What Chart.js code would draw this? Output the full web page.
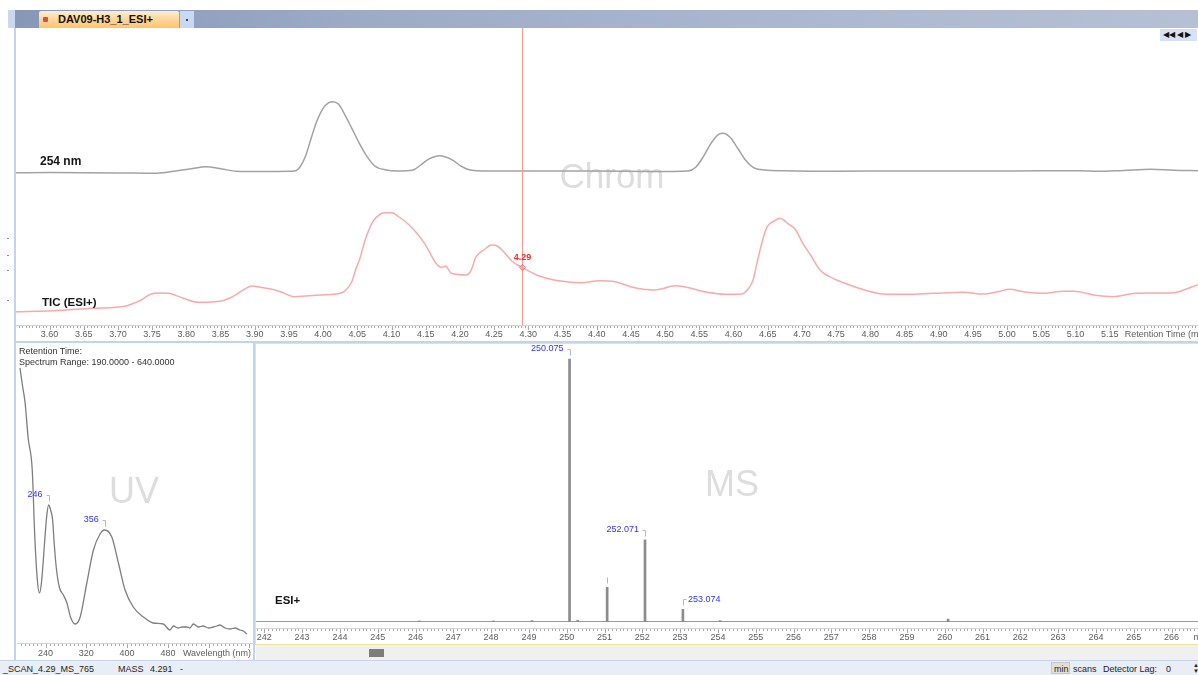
<!DOCTYPE html>
<html>
<head>
<meta charset="utf-8">
<title>DAV09-H3_1_ESI+</title>
<script src="https://cdn.jsdelivr.net/npm/chart.js@4.4.1/dist/chart.umd.min.js"></script>
<style>
  html, body { margin: 0; padding: 0; background: #fff; }
  body { position: relative; width: 1198px; height: 675px; overflow: hidden;
         font-family: "Liberation Sans", Arial, Helvetica, sans-serif; }
  .box { position: absolute; }
  canvas { position: absolute; display: block; }
  .txt { position: absolute; white-space: nowrap; line-height: 1; }
</style>
</head>
<body>

<!-- window title strip and document tab -->
<div class="box" style="left:8px;top:10px;width:7px;height:18px;background:#c9d8ee"></div>
<div class="box" style="left:15px;top:10px;width:1183px;height:18px;background:linear-gradient(to right,#8797b7 0%,#9dabc7 30%,#adb9d0 70%,#b5c0d5 100%)"></div>
<div class="box" style="left:39px;top:11px;width:140px;height:17px;background:linear-gradient(#ffedcf,#ffd493 55%,#ffc46f);border-radius:2px 2px 0 0"></div>
<div class="box" style="left:43px;top:17px;width:5px;height:5px;background:#d4504a;border-radius:1px"></div>
<div class="txt" style="left:58px;top:14px;font-size:11px;font-weight:bold;color:#111">DAV09-H3_1_ESI+</div>
<div class="box" style="left:180px;top:11px;width:14px;height:17px;background:#c8daf3"></div>
<div class="box" style="left:186px;top:19px;width:2px;height:2px;background:#445"></div>

<!-- canvases -->
<canvas id="chrom" width="1182" height="313" style="left:16px;top:28px;width:1182px;height:313px"></canvas>
<canvas id="uv" width="236" height="317" style="left:17px;top:343px;width:236px;height:317px"></canvas>
<canvas id="ms" width="942" height="300" style="left:256px;top:344px;width:942px;height:300px"></canvas>

<!-- pane borders -->
<div class="box" style="left:14px;top:28px;width:2px;height:632px;background:#c2d4ec"></div>
<div class="box" style="left:15px;top:341px;width:1183px;height:2px;background:#c2d4ec"></div>
<div class="box" style="left:253px;top:343px;width:2px;height:317px;background:#c2d4ec"></div>
<div class="box" style="left:255px;top:343px;width:943px;height:1px;background:#f1e39c"></div>
<div class="box" style="left:255px;top:343px;width:1px;height:302px;background:#f1e39c"></div>
<div class="box" style="left:255px;top:644px;width:943px;height:1px;background:#f1e39c"></div>
<div class="box" style="left:256px;top:645px;width:942px;height:15px;background:#f0f0f0"></div>
<div class="box" style="left:369px;top:649px;width:15px;height:8px;background:#7d7d7d"></div>

<!-- navigation buttons -->
<div class="box" style="left:1160px;top:29px;width:37px;height:12px;background:#d6e2f3"></div>
<div class="txt" style="left:1163px;top:31px;font-size:8px;color:#111">&#9664;&#9664; &#9664; &#9654;</div>

<!-- small marks in the left margin -->
<div class="box" style="left:7px;top:238px;width:2px;height:1px;background:#888"></div>
<div class="box" style="left:7px;top:255px;width:2px;height:1px;background:#888"></div>
<div class="box" style="left:7px;top:270px;width:2px;height:1px;background:#888"></div>
<div class="box" style="left:7px;top:300px;width:2px;height:1px;background:#888"></div>

<!-- spectrum header -->
<div class="txt" style="left:19px;top:347px;font-size:9px;color:#333">Retention Time:</div>
<div class="txt" style="left:19px;top:358px;font-size:9px;color:#333">Spectrum Range: 190.0000 - 640.0000</div>

<!-- status bar -->
<div class="box" style="left:0;top:660px;width:1198px;height:15px;background:#e9eef6;border-top:1px solid #c5d5ea"></div>
<div class="txt" style="left:3px;top:665px;font-size:9px;color:#222">_SCAN_4.29_MS_765</div>
<div class="txt" style="left:118px;top:665px;font-size:9px;color:#222">MASS</div>
<div class="txt" style="left:150px;top:665px;font-size:9px;color:#222">4.291</div>
<div class="txt" style="left:180px;top:665px;font-size:9px;color:#222">-</div>
<div class="box" style="left:1051px;top:662px;width:19px;height:12px;background:#e2dfd4;border:1px solid #cbc7b9;box-sizing:border-box"></div>
<div class="txt" style="left:1054px;top:665px;font-size:9px;color:#222">min</div>
<div class="txt" style="left:1073px;top:665px;font-size:9px;color:#222">scans</div>
<div class="txt" style="left:1103px;top:665px;font-size:9px;color:#222">Detector Lag:</div>
<div class="txt" style="left:1166px;top:665px;font-size:9px;color:#222">0</div>
<div class="txt" style="left:1193px;top:662px;font-size:6px;color:#222;line-height:6px">&#9650;<br>&#9660;</div>

<script>
// ---------------- chromatogram: retention time (min) ----------------
const rtMin = 3.55102, rtMax = 5.27909;
const rtTickLabels = ['3.60','3.65','3.70','3.75','3.80','3.85','3.90','3.95','4.00','4.05',
  '4.10','4.15','4.20','4.25','4.30','4.35','4.40','4.45','4.50','4.55','4.60','4.65','4.70',
  '4.75','4.80','4.85','4.90','4.95','5.00','5.05','5.10','5.15'];

// 254 nm absorbance trace (relative)
const uv254Time = [3.551,3.600,3.650,3.700,3.757,3.7845,3.8069,3.8292,3.8517,3.8741,3.900,3.930,
  3.958,3.9664,3.9749,3.9832,3.9915,4.000,4.0083,4.0139,4.0224,4.0307,4.042,4.053,4.0643,4.0755,
  4.0922,4.109,4.1314,4.1427,4.1538,4.1706,4.1874,4.2013,4.2153,4.240,4.300,4.400,4.480,4.5335,
  4.5447,4.5559,4.5671,4.5782,4.5849,4.595,4.6062,4.6174,4.6286,4.6455,4.6734,4.750,4.8525,
  4.950,5.050,5.1042,5.132,5.170,5.2105,5.244,5.2791];
const uv254Abs = [0.3,0.4,0.3,0.1,-0.3,2,4.3,6.3,4,1.7,1.4,1.6,
  2,6.3,18,36.3,53,64.7,70.3,71.3,69,59.7,44.7,29.7,16.3,7,
  3,2,3,8,13.7,17.3,13.7,7,3,2,2,2,1.5,2,
  5.7,16.3,29.7,38.7,39.7,35.7,24.7,13,5.7,3,2.3,1.8,2,
  2,2.2,2.3,1.7,2.6,3.7,2.7,2.3];

// total ion current, ESI+ (relative)
const ticTime = [3.551,3.6055,3.6615,3.7118,3.723,3.7342,3.7454,3.7566,3.7734,3.7957,3.8181,3.8517,
  3.8629,3.8741,3.8853,3.8964,3.9076,3.930,3.9412,3.958,3.9748,3.9972,4.025,4.0335,4.0419,4.0475,
  4.0531,4.0615,4.0727,4.0839,4.0923,4.1007,4.1091,4.1259,4.1371,4.1482,4.1566,4.165,4.1734,4.179,
  4.1874,4.2098,4.2154,4.2238,4.235,4.2462,4.2546,4.2658,4.277,4.291,4.3162,4.3442,4.3776,4.4028,
  4.4272,4.4496,4.4832,4.4943,4.5139,4.5279,4.5615,4.5895,4.6118,4.6202,4.6286,4.6353,4.6426,
  4.6493,4.6594,4.6678,4.6734,4.679,4.6902,4.7014,4.7126,4.7265,4.7405,4.7629,4.7965,4.8189,
  4.8524,4.8916,4.9364,4.9643,4.9867,5.0035,5.0259,5.0538,5.0818,5.0986,5.1266,5.1546,5.1881,
  5.2441,5.2609,5.2791];
const ticIntensity = [13.3,14.3,16.7,19,21.7,25,30,32,31.7,26.7,22.7,24,
  26.7,31,36,39,37.7,35,32.3,28.3,29,30,31.7,35,43.3,55,
  65,85,103.3,111,112.3,112.3,109,100,91.7,81.7,71.7,61.7,57.7,59,
  51.7,50,53.3,68.3,75,80,79,71.7,63.3,57.7,49,44.3,42.3,44.3,
  43.3,38.3,35,36,39.3,38.3,32.7,30.7,31,35,45,65,85,
  98.3,104,106.7,105,101.7,95.7,81.7,70,55,48.3,41.7,34,31,
  30.7,31.7,32.7,31,33.3,35.7,33,31.7,33.7,33.7,30,28.3,31.7,
  32.3,35.7,40.3];

const cursorTime = 4.291;
const cursorLabel = '4.29';

// ---------------- UV spectrum at the cursor ----------------
const nmMin = 184.1, nmMax = 646.9;
const uvTickLabels = ['240','320','400','480'];
const uvWavelength = [190,195,200,206,214,219,224,228,232,239,242,246,250,254,257,261,267,275,282,
  289,298,308,321,334,347,356,370,383,396,412,432,451,471,484,491,500,508,517,523,530,540,549,
  560,569,576,582,592,602,612,621,628,635];
const uvAbs = [275,257,240,205,173,106,63,50,60,106,125,138,133,123,100,76,56,48,40,
  26,19,26,60,93,109,113,106,80,53,36,26,20,19,13,17,15,16,16,15,19,16,17,
  15,16,17,18,15,14,15,13,12,9];
const uvPeakLabels = [246, 356];

// ---------------- mass spectrum at the cursor ----------------
const mzMin = 241.780, mzMax = 266.701;
const msTickLabels = ['242','243','244','245','246','247','248','249','250','251','252','253',
  '254','255','256','257','258','259','260','261','262','263','264','265','266'];
const msMz = [246.10, 248.06, 249.08, 250.075, 250.29, 251.07, 252.071, 253.074, 254.06, 260.09];
const msIntensity = [0.4, 0.4, 0.5, 100, 0.6, 13.2, 31.2, 4.8, 0.5, 1.1];
const msLabelMz = [250.075, 251.07, 252.071, 253.074];
const msLabelText = ['250.075', '', '252.071', '253.074'];

// ---------------- shared helpers ----------------
const FONT = '"Liberation Sans", Arial, Helvetica, sans-serif';
Chart.defaults.font.family = FONT;

function pairs(xs, ys) { return xs.map((x, i) => ({ x, y: ys[i] })); }

// bottom axis: labels only; the gap below the plot is given as an (undrawn) tick length
function xAxis(min, max, labels, height, gap) {
  const values = labels.map(Number);
  return {
    type: 'linear', min, max, bounds: 'data', offset: false,
    grid: { display: false, drawTicks: true, tickLength: gap },
    border: { display: false },
    afterFit: s => { s.height = height; },
    afterBuildTicks: s => { s.ticks = values.map(v => ({ value: v })); },
    ticks: {
      autoSkip: false, maxRotation: 0, minRotation: 0, padding: 0,
      color: '#5c5c5c', font: { size: 9 },
      callback: v => {
        const i = values.findIndex(t => Math.abs(t - v) < 1e-9);
        return i >= 0 ? labels[i] : '';
      }
    }
  };
}

// ruler under a plot: fine ticks with a longer mark at each labelled step
function drawRuler(chart, gap, minor, major) {
  const { ctx, chartArea } = chart;
  const sx = chart.scales.x;
  const y0 = Math.round(chartArea.bottom + gap);
  ctx.save();
  ctx.fillStyle = '#d4d4d4';
  ctx.fillRect(sx.left, y0, sx.right - sx.left, 1);
  ctx.fillStyle = '#a9a9a9';
  const first = Math.ceil(sx.min / minor - 1e-9), last = Math.floor(sx.max / minor + 1e-9);
  for (let n = first; n <= last; n++) {
    const v = n * minor;
    const px = Math.round(sx.getPixelForValue(v));
    const r = v / major;
    const isMajor = Math.abs(r - Math.round(r)) < 1e-6;
    ctx.fillRect(px, y0 + 1, 1, isMajor ? 4 : 2);
  }
  ctx.restore();
}

function watermark(chart, text, x, y, size) {
  const { ctx, chartArea } = chart;
  ctx.save();
  ctx.font = size + 'px ' + FONT;
  ctx.fillStyle = '#dddddd';
  ctx.textAlign = 'center';
  ctx.textBaseline = 'middle';
  ctx.fillText(text, chartArea.left + x, chartArea.top + y);
  ctx.restore();
}

// peak annotation: label text beside a small bracket above the apex
function peakTag(ctx, px, top, text, side) {
  const ly = top - 10;
  ctx.save();
  ctx.strokeStyle = '#a9b6ef';
  ctx.lineWidth = 1;
  const bx = Math.round(px) + 0.5;
  ctx.beginPath();
  if (text) {
    ctx.moveTo(side === 'left' ? bx - 3 : bx + 3, Math.round(ly) + 0.5);
    ctx.lineTo(bx, Math.round(ly) + 0.5);
  } else {
    ctx.moveTo(bx, Math.round(ly) + 0.5);
  }
  ctx.lineTo(bx, Math.round(top - 4) + 0.5);
  ctx.stroke();
  if (text) {
    ctx.font = '9px ' + FONT;
    ctx.fillStyle = '#3434f0';
    ctx.textBaseline = 'middle';
    ctx.textAlign = side === 'left' ? 'right' : 'left';
    ctx.fillText(text, side === 'left' ? px - 6 : px + 5, ly);
  }
  ctx.restore();
}

function textAt(ctx, text, x, y, font, color, align) {
  ctx.save();
  ctx.font = font;
  ctx.fillStyle = color;
  ctx.textAlign = align || 'left';
  ctx.textBaseline = 'middle';
  ctx.fillText(text, x, y);
  ctx.restore();
}

const baseOptions = {
  responsive: false, animation: false, devicePixelRatio: 1,
  layout: { padding: 0, autoPadding: false },
  plugins: { legend: { display: false }, tooltip: { enabled: false } },
  events: []
};

// ---------------- chromatogram chart ----------------
new Chart(document.getElementById('chrom'), {
  type: 'line',
  data: {
    datasets: [
      { label: '254 nm', data: pairs(uv254Time, uv254Abs), yAxisID: 'yUv',
        borderColor: '#a2a2a2', borderWidth: 1.5, pointRadius: 0, cubicInterpolationMode: 'monotone' },
      { label: 'TIC (ESI+)', data: pairs(ticTime, ticIntensity), yAxisID: 'yTic',
        borderColor: '#f8aaaa', borderWidth: 1.5, pointRadius: 0, cubicInterpolationMode: 'monotone' }
    ]
  },
  options: Object.assign({}, baseOptions, {
    scales: {
      x: xAxis(rtMin, rtMax, rtTickLabels, 16, 4),
      yUv: { display: false, min: -152, max: 145 },
      yTic: { display: false, min: 0, max: 297 }
    }
  }),
  plugins: [{
    id: 'chromDecor',
    beforeDatasetsDraw(chart) { watermark(chart, 'Chrom', 596, 150, 35); },
    afterDatasetsDraw(chart) {
      const { ctx, chartArea: a, scales } = chart;
      drawRuler(chart, 0, 0.005, 0.05);
      // cursor
      const cx = Math.round(scales.x.getPixelForValue(cursorTime)) + 0.5;
      ctx.save();
      ctx.strokeStyle = '#f39c9c';
      ctx.lineWidth = 1.2;
      ctx.beginPath(); ctx.moveTo(cx, a.top); ctx.lineTo(cx, a.bottom); ctx.stroke();
      const i = ticTime.indexOf(cursorTime);
      const py = scales.yTic.getPixelForValue(ticIntensity[i]);
      ctx.strokeStyle = '#f06a6a';
      ctx.lineWidth = 1;
      ctx.beginPath();
      ctx.moveTo(cx, py - 3); ctx.lineTo(cx + 3, py); ctx.lineTo(cx, py + 3); ctx.lineTo(cx - 3, py);
      ctx.closePath(); ctx.stroke();
      ctx.restore();
      textAt(ctx, cursorLabel, cx, py - 10, 'bold 9px ' + FONT, '#ff2626', 'center');
      // trace names
      textAt(ctx, '254 nm', a.left + 24, a.top + 134, 'bold 12px ' + FONT, '#151515');
      textAt(ctx, 'TIC (ESI+)', a.left + 26, a.top + 275, 'bold 11.5px ' + FONT, '#151515');
      // axis title after the last label
      const tx = scales.x.getPixelForValue(Number(rtTickLabels[rtTickLabels.length - 1])) + 15;
      textAt(ctx, 'Retention Time (min)', tx, a.bottom + 9.5, '9px ' + FONT, '#5c5c5c');
    }
  }]
});

// ---------------- UV spectrum chart ----------------
new Chart(document.getElementById('uv'), {
  type: 'line',
  data: {
    datasets: [
      { label: 'UV', data: pairs(uvWavelength, uvAbs), borderColor: '#7e7e7e', borderWidth: 1.3,
        pointRadius: 0, cubicInterpolationMode: 'monotone' }
    ]
  },
  options: Object.assign({}, baseOptions, {
    scales: {
      x: xAxis(nmMin, nmMax, uvTickLabels, 17, 5),
      y: { display: false, min: 0, max: 300 }
    }
  }),
  plugins: [{
    id: 'uvDecor',
    beforeDatasetsDraw(chart) { watermark(chart, 'UV', 117, 150, 36); },
    afterDatasetsDraw(chart) {
      const { ctx, chartArea: a, scales } = chart;
      drawRuler(chart, 0, 8, 80);
      const meta = chart.getDatasetMeta(0);
      uvPeakLabels.forEach(nm => {
        const el = meta.data[uvWavelength.indexOf(nm)];
        peakTag(ctx, el.x, el.y, String(nm), 'left');
      });
      const tx = scales.x.getPixelForValue(Number(uvTickLabels[uvTickLabels.length - 1])) + 15;
      textAt(ctx, 'Wavelength (nm)', tx, a.bottom + 10.5, '9px ' + FONT, '#5c5c5c');
    }
  }]
});

// ---------------- mass spectrum chart ----------------
new Chart(document.getElementById('ms'), {
  type: 'bar',
  data: {
    datasets: [
      { label: 'ESI+', data: pairs(msMz, msIntensity), backgroundColor: '#8b8b8b',
        borderWidth: 0, barThickness: 2 }
    ]
  },
  options: Object.assign({}, baseOptions, {
    scales: {
      x: xAxis(mzMin, mzMax, msTickLabels, 22, 10),
      y: { display: false, min: 0, max: 105.7 }
    }
  }),
  plugins: [{
    id: 'msDecor',
    beforeDatasetsDraw(chart) {
      const { ctx, chartArea: a, scales } = chart;
      watermark(chart, 'MS', 476, 142, 36);
      const y0 = Math.round(scales.y.getPixelForValue(0)) - 0.5;
      ctx.save();
      ctx.strokeStyle = '#9a9a9a';
      ctx.lineWidth = 1;
      ctx.beginPath(); ctx.moveTo(a.left, y0); ctx.lineTo(a.right, y0); ctx.stroke();
      ctx.restore();
    },
    afterDatasetsDraw(chart) {
      const { ctx, chartArea: a, scales } = chart;
      drawRuler(chart, 6, 0.1, 1);
      const meta = chart.getDatasetMeta(0);
      ctx.save();
      ctx.font = '9px ' + FONT;
      msLabelMz.forEach((mz, k) => {
        const el = meta.data[msMz.indexOf(mz)];
        const text = msLabelText[k];
        const w = ctx.measureText(text).width;
        const ly = el.y - 10;
        // put the label on the right when a taller neighbour would cross it
        const blocked = meta.data.some(o => o !== el && o.x < el.x && o.x > el.x - 8 - w && o.y < ly + 6);
        peakTag(ctx, el.x, el.y, text, blocked ? 'right' : 'left');
      });
      ctx.restore();
      textAt(ctx, 'ESI+', a.left + 19, a.top + 257, 'bold 11.5px ' + FONT, '#151515');
      const tx = scales.x.getPixelForValue(Number(msTickLabels[msTickLabels.length - 1])) + 22;
      textAt(ctx, 'm/z', tx, a.bottom + 15.5, '9px ' + FONT, '#5c5c5c');
    }
  }]
});
</script>
</body>
</html>
